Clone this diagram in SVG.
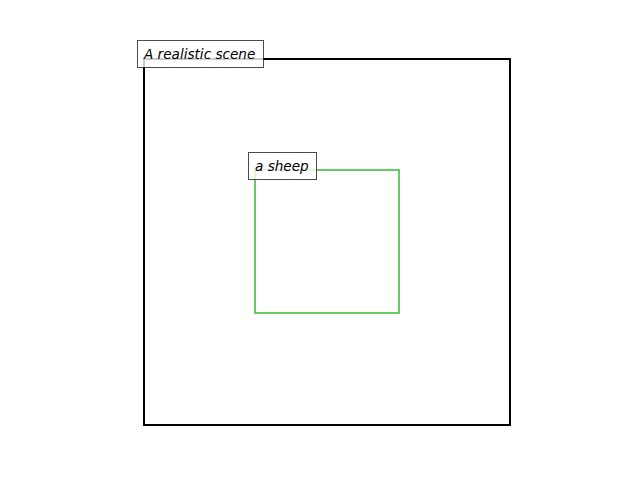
<svg xmlns="http://www.w3.org/2000/svg" width="640" height="480" viewBox="0 0 640 480">
<style>
.lbl{fill:#ffffff;fill-opacity:0.8;stroke:#000;stroke-opacity:0.7;stroke-width:1}
.t{font-family:"DejaVu Sans",sans-serif;font-style:oblique;font-size:13.6px;fill:#000}
</style>
<rect width="640" height="480" fill="#fff"/>
<g id="scene">
<rect x="144" y="59" width="366" height="366" fill="none" stroke="#000" stroke-width="2"/>
</g>
<g id="sheep">
<rect x="255" y="170" width="144" height="143" fill="none" stroke="#66cc66" stroke-width="2"/>
</g>
<g id="scene-label">
<rect class="lbl" x="137.5" y="40.5" width="126" height="27"/>
<text class="t" x="144" y="58.5">A realistic scene</text>
</g>
<g id="sheep-label">
<rect class="lbl" x="248.5" y="152.5" width="68" height="27"/>
<text class="t" x="255" y="170.5">a sheep</text>
</g>
<g id="connectors"/>
</svg>
